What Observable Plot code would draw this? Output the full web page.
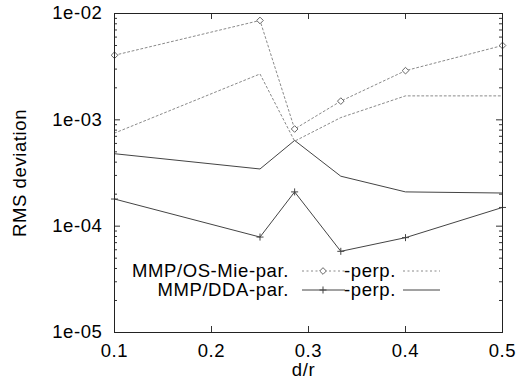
<!DOCTYPE html>
<html><head><meta charset="utf-8">
<script src="https://cdn.jsdelivr.net/npm/d3@7"></script>
<script src="https://cdn.jsdelivr.net/npm/@observablehq/plot@0.6"></script>
<style>body{margin:0;background:#fff} svg{display:block}</style>
</head><body><div id="chart"></div>
<script>
// Data
const dr = [0.1, 0.25, 0.2857, 0.3333, 0.4, 0.5];
const osMiePar  = [4.05e-3, 8.6e-3, 8.2e-4, 1.5e-3, 2.9e-3, 5.0e-3];
const osMiePerp = [7.5e-4, 2.7e-3, 6.3e-4, 1.05e-3, 1.68e-3, 1.68e-3];
const ddaPar    = [1.8e-4, 7.9e-5, 2.1e-4, 5.8e-5, 7.8e-5, 1.5e-4];
const ddaPerp   = [4.8e-4, 3.45e-4, 6.4e-4, 2.95e-4, 2.1e-4, 2.05e-4];
const xTicks = [0.1, 0.2, 0.3, 0.4, 0.5];
const yTicks = [1e-5, 1e-4, 1e-3, 1e-2];
const yTickLabels = ["1e-05", "1e-04", "1e-03", "1e-02"];
const minorMult = [2, 3, 4, 5, 6, 7, 8, 9];
const legendLeft = ["MMP/OS-Mie-par.", "MMP/DDA-par."];
const legendRight = ["-perp.", "-perp."];

const W = 523, H = 385, mL = 114, mR = 21, mT = 13, mB = 53;
const pw = W - mL - mR, ph = H - mT - mB;
const yMinor = yTicks.slice(0, 3).flatMap(p => minorMult.map(m => m * p));

const rows = dr.map((x, i) => ({x, osPar: osMiePar[i], osPerp: osMiePerp[i], ddaPar: ddaPar[i], ddaPerp: ddaPerp[i]}));
const dotC = "#8a8a8a", solC = "#444";
const font = "'Liberation Sans', Arial, sans-serif";
const fs = 18.5, ls = "0.6px";

const chart = Plot.plot({
  width: W, height: H,
  marginLeft: mL, marginRight: mR, marginTop: mT, marginBottom: mB,
  style: {fontFamily: font, fontSize: fs + "px", letterSpacing: ls, color: "#000", background: "#fff"},
  x: {domain: [0.1, 0.5]},
  y: {type: "log", domain: [1e-5, 1e-2]},
  marks: [
    // inward ticks
    Plot.tickY(yTicks, {y: d => d, insetRight: pw - 6, stroke: "#333"}),
    Plot.tickY(yTicks, {y: d => d, insetLeft: pw - 6, stroke: "#333"}),
    Plot.tickY(yMinor, {y: d => d, insetRight: pw - 3, stroke: "#333"}),
    Plot.tickY(yMinor, {y: d => d, insetLeft: pw - 3, stroke: "#333"}),
    Plot.tickX(xTicks, {x: d => d, insetTop: ph - 6, stroke: "#333"}),
    Plot.tickX(xTicks, {x: d => d, insetBottom: ph - 6, stroke: "#333"}),
    Plot.axisY({ticks: yTicks, tickSize: 0, tickPadding: 12, fontSize: fs, tickFormat: d => yTickLabels[yTicks.indexOf(d)], label: null}),
    Plot.axisX({ticks: xTicks, tickSize: 0, tickPadding: 11, fontSize: fs, tickFormat: d => d.toFixed(1), label: null}),
    Plot.text(["RMS deviation"], {frameAnchor: "left", dx: -94, rotate: -90, textAnchor: "middle", text: d => d, fontSize: fs}),
    Plot.text(["d/r"], {frameAnchor: "bottom", dx: -5, dy: 43, text: d => d, fontSize: fs}),
    // series
    Plot.line(rows, {x: "x", y: "osPar", stroke: dotC, strokeDasharray: "2,2.5", strokeWidth: 1}),
    Plot.line(rows, {x: "x", y: "osPerp", stroke: dotC, strokeDasharray: "2,2.5", strokeWidth: 1}),
    Plot.line(rows, {x: "x", y: "ddaPar", stroke: solC, strokeWidth: 1}),
    Plot.line(rows, {x: "x", y: "ddaPerp", stroke: solC, strokeWidth: 1}),
    Plot.dot(rows, {x: "x", y: "osPar", symbol: "diamond2", r: 3, stroke: "#666", fill: "white", strokeWidth: 1}),
    Plot.dot(rows, {x: "x", y: "ddaPar", symbol: "plus", r: 2.4, stroke: solC, strokeWidth: 1}),
    Plot.frame({stroke: "#222"})
  ]
});
document.getElementById("chart").appendChild(chart);

// Legend (inside the plot area)
const svg = d3.select(chart);
const lg = svg.append("g").attr("font-family", font).attr("font-size", fs).attr("letter-spacing", ls);
const rowsY = [271, 290];
const styles = [
  {stroke: dotC, dash: "2,2.5", marker: "diamond"},
  {stroke: solC, dash: null, marker: "plus"}
];
legendLeft.forEach((t, i) => {
  const y = rowsY[i], s = styles[i];
  lg.append("text").attr("x", 289).attr("y", y).attr("dy", "0.35em").attr("text-anchor", "end").text(t);
  lg.append("line").attr("x1", 302).attr("x2", 345).attr("y1", y).attr("y2", y)
    .attr("stroke", s.stroke).attr("stroke-dasharray", s.dash);
  if (s.marker === "diamond") {
    lg.append("path").attr("transform", `translate(323,${y})`).attr("d", d3.symbol(d3.symbolDiamond2, Math.PI * 9)())
      .attr("fill", "white").attr("stroke", "#666");
  } else {
    lg.append("path").attr("transform", `translate(323,${y})`).attr("d", d3.symbol(d3.symbolPlus, Math.PI * 2.4 * 2.4)())
      .attr("fill", "none").attr("stroke", solC);
  }
  lg.append("text").attr("x", 396).attr("y", y).attr("dy", "0.35em").attr("text-anchor", "end").text(legendRight[i]);
  lg.append("line").attr("x1", 403).attr("x2", 440).attr("y1", y).attr("y2", y)
    .attr("stroke", s.stroke).attr("stroke-dasharray", s.dash);
});
</script>
</body></html>
